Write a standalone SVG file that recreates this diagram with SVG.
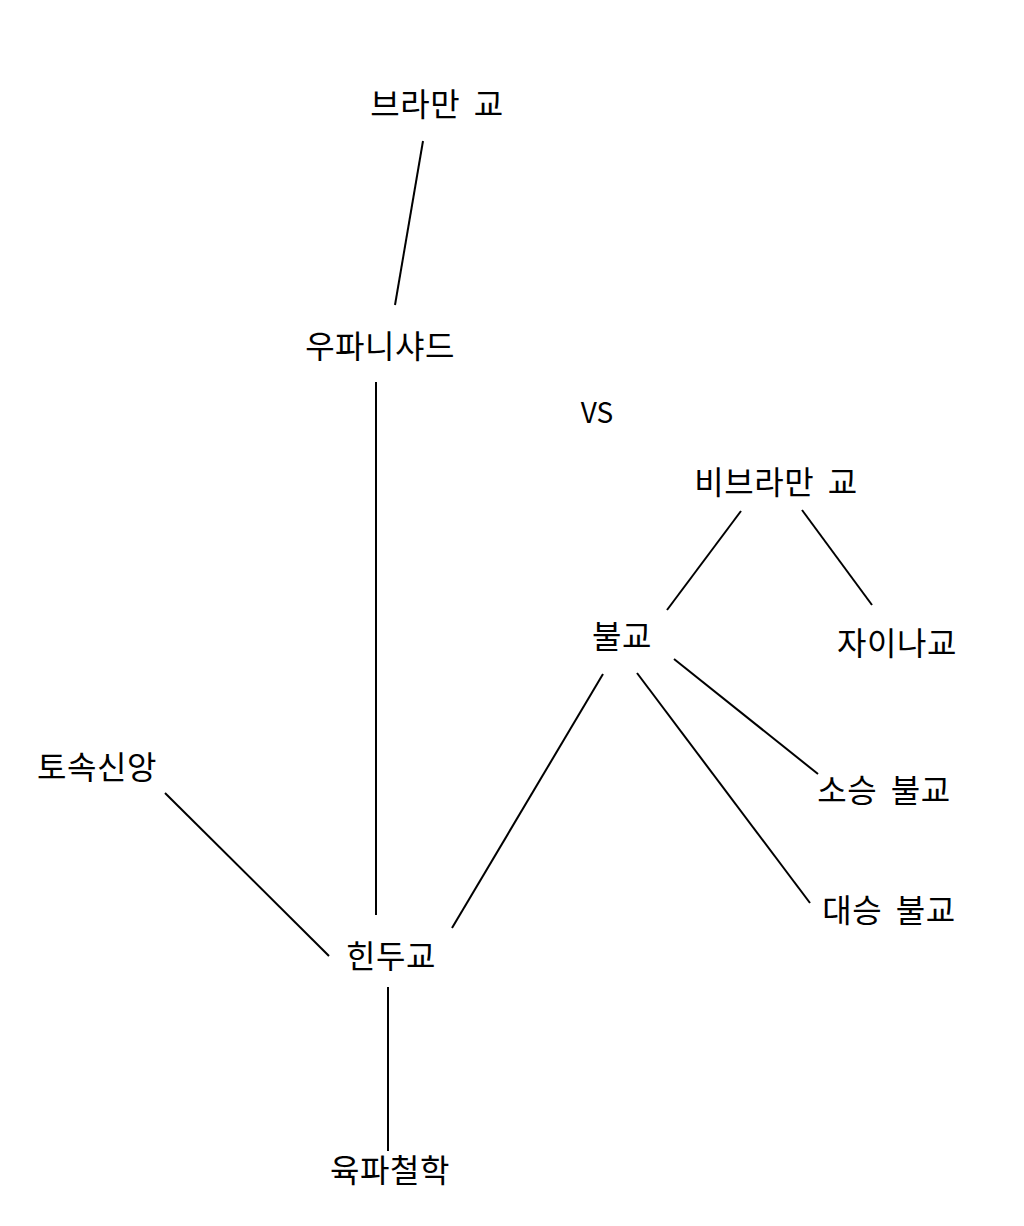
<svg xmlns="http://www.w3.org/2000/svg" width="1024" height="1226" viewBox="0 0 1024 1226">
<style>
text{font-family:"Noto Sans CJK KR","Noto Sans",sans-serif;font-size:32px;fill:#000;text-anchor:middle;word-spacing:6px;letter-spacing:0.5px}
.c line{stroke:#000;stroke-width:2;fill:none}
</style>
<rect width="1024" height="1226" fill="#fff"/>
<g id="connectors" class="c">
<line x1="423" y1="141" x2="395" y2="305"/>
<line x1="376" y1="382" x2="376" y2="915"/>
<line x1="741" y1="511" x2="667" y2="610"/>
<line x1="802" y1="510" x2="872" y2="605"/>
<line x1="603" y1="674" x2="452" y2="928"/>
<line x1="637" y1="673" x2="810" y2="903"/>
<line x1="674" y1="659" x2="818" y2="774"/>
<line x1="165" y1="793" x2="329" y2="956"/>
<line x1="388" y1="987" x2="388" y2="1151"/>
</g>
<g id="brahmanism"><text x="437" y="116">브라만 교</text></g>
<g id="upanishad"><text x="380" y="358">우파니샤드</text></g>
<g id="vs"><text x="597" y="423" style="font-size:28px;letter-spacing:0">VS</text></g>
<g id="non-brahmanism"><text x="776" y="494">비브라만 교</text></g>
<g id="buddhism"><text x="622" y="648">불교</text></g>
<g id="jainism"><text x="897" y="655">자이나교</text></g>
<g id="hinayana"><text x="884" y="802">소승 불교</text></g>
<g id="mahayana"><text x="889" y="922">대승 불교</text></g>
<g id="folk"><text x="97" y="779">토속신앙</text></g>
<g id="hinduism"><text x="391" y="968">힌두교</text></g>
<g id="six-schools"><text x="390" y="1182">육파철학</text></g>
</svg>
